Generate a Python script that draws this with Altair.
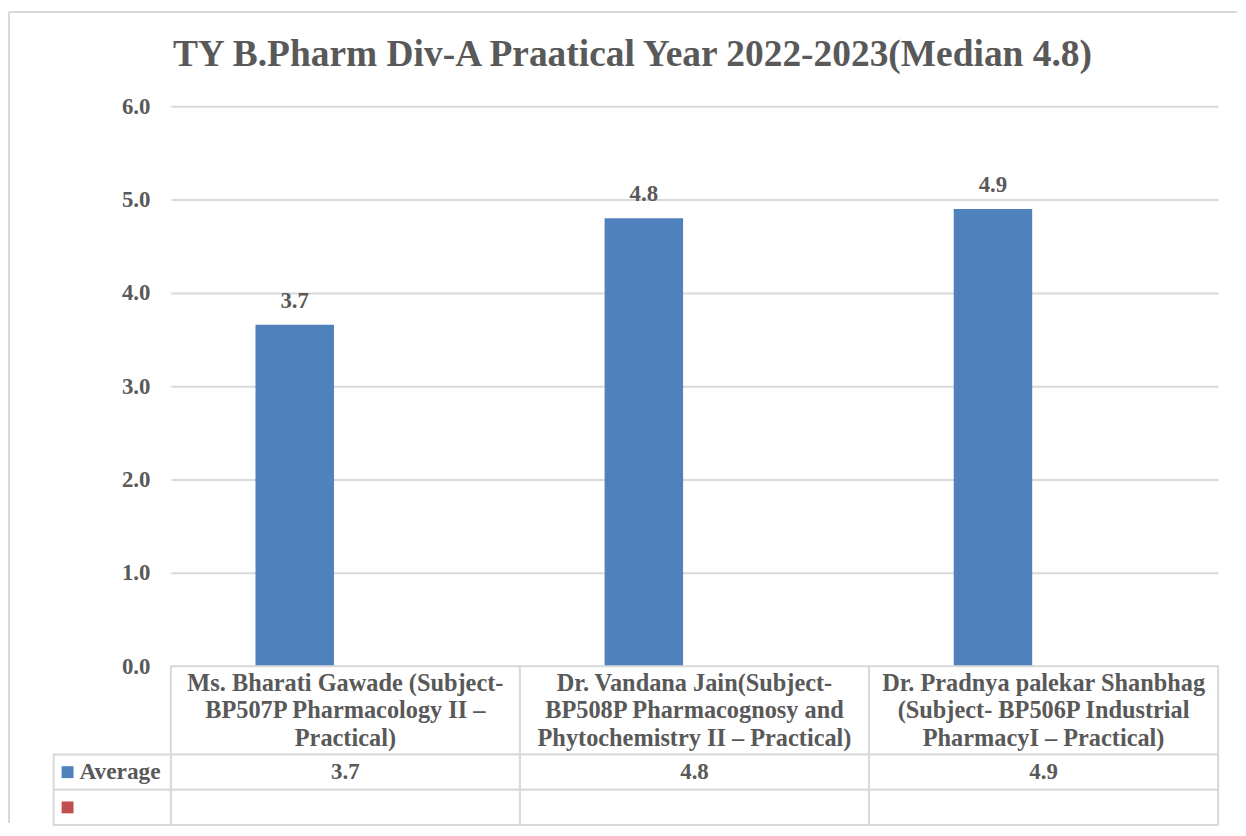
import altair as alt
import pandas as pd

TITLE = "TY B.Pharm Div-A Praatical Year 2022-2023(Median 4.8)"
CATEGORIES = [
    "Ms. Bharati Gawade (Subject-\nBP507P Pharmacology II –\nPractical)",
    "Dr. Vandana Jain(Subject-\nBP508P Pharmacognosy and\nPhytochemistry II – Practical)",
    "Dr. Pradnya palekar Shanbhag\n(Subject- BP506P Industrial\nPharmacyI – Practical)",
]
VALUES = [3.66, 4.80, 4.90]
SERIES = ["Average", " "]
SERIES_COLORS = ["#4F81BD", "#C0504D"]
Y_TICKS = [0, 1, 2, 3, 4, 5, 6]

FONT = "Liberation Serif"
TXT = "#595959"
GRID = "#D9D9D9"

W = 1055
H1, H2, H3 = 564, 89, 71

bars_df = pd.DataFrame({"cat": CATEGORIES, "value": VALUES, "series": SERIES[0]})
one = pd.DataFrame({"t": [TITLE]})

xscale = alt.Scale(domain=CATEGORIES, paddingInner=0, paddingOuter=0)
xoff = alt.XOffset("series:N", scale=alt.Scale(domain=SERIES, paddingInner=0.225, paddingOuter=0.836))

base = alt.Chart(bars_df)
bars = base.mark_bar(color=SERIES_COLORS[0]).encode(
    x=alt.X("cat:N", scale=xscale, axis=None, sort=CATEGORIES),
    xOffset=xoff,
    y=alt.Y("value:Q", scale=alt.Scale(domain=[0, 6], nice=False),
            axis=alt.Axis(values=Y_TICKS, format=".1f", title=None, ticks=False, domain=False,
                          grid=True, gridColor=GRID, gridWidth=2, labelFont=FONT,
                          labelFontSize=23, labelFontWeight="bold", labelColor=TXT,
                          labelPadding=21)),
)
labels = base.mark_text(font=FONT, fontSize=23, fontWeight="bold", color=TXT, dy=-17,
                        baseline="alphabetic").encode(
    x=alt.X("cat:N", scale=xscale, axis=None, sort=CATEGORIES),
    xOffset=xoff,
    y=alt.Y("value:Q"),
    text=alt.Text("value:Q", format=".1f"),
)
title = alt.Chart(one).mark_text(font=FONT, fontSize=37.7, fontWeight="bold", color=TXT,
                                 align="center", baseline="alphabetic").encode(
    x=alt.value(465), y=alt.value(-41), text="t:N")
top_border = alt.Chart(one).mark_rule(color=GRID, strokeWidth=2).encode(
    x=alt.value(-163), x2=alt.value(1074), y=alt.value(-95))
left_border = alt.Chart(one).mark_rule(color=GRID, strokeWidth=2).encode(
    x=alt.value(-163), y=alt.value(-95), y2=alt.value(722))

chart1 = alt.layer(top_border, left_border, bars, labels, title).properties(width=W, height=H1)

# category row of the data table
cat_df = pd.DataFrame({"cat": CATEGORIES, "row": "cat"})
cbase = alt.Chart(cat_df)
cat_cells = cbase.mark_rect(fill="white", stroke=GRID, strokeWidth=2).encode(
    x=alt.X("cat:N", scale=xscale, axis=None, sort=CATEGORIES),
    y=alt.Y("row:N", axis=None),
)
cat_text = cbase.mark_text(font=FONT, fontSize=24.5, fontWeight="bold", color=TXT,
                           lineBreak="\n", lineHeight=27.5, baseline="alphabetic").encode(
    x=alt.X("cat:N", scale=xscale, axis=None, sort=CATEGORIES),
    y=alt.value(25),
    text="cat:N",
)
chart2 = alt.layer(cat_cells, cat_text).properties(width=W, height=H2)

# value rows of the data table
rows = []
for s in SERIES:
    for c, v in zip(CATEGORIES, VALUES):
        rows.append({"cat": c, "row": s, "txt": f"{v:.1f}" if s == "Average" else ""})
tab_df = pd.DataFrame(rows)
hdr_df = pd.DataFrame({"row": SERIES, "color": SERIES_COLORS})
yrow = alt.Y("row:N", scale=alt.Scale(domain=SERIES), axis=None)

tbase = alt.Chart(tab_df)
tab_cells = tbase.mark_rect(fill="white", stroke=GRID, strokeWidth=2).encode(
    x=alt.X("cat:N", scale=xscale, axis=None, sort=CATEGORIES), y=yrow)
tab_text = tbase.mark_text(font=FONT, fontSize=23, fontWeight="bold", color=TXT,
                           baseline="middle").encode(
    x=alt.X("cat:N", scale=xscale, axis=None, sort=CATEGORIES), y=yrow, text="txt:N")

hbase = alt.Chart(hdr_df)
hdr_cells = hbase.mark_rect(fill="white", stroke=GRID, strokeWidth=2).encode(
    x=alt.value(-118), x2=alt.value(0), y=yrow)
hdr_sq = hbase.mark_square(size=144, opacity=1, filled=True).encode(
    x=alt.value(-104), y=yrow,
    color=alt.Color("color:N", scale=None, legend=None))
hdr_text = hbase.mark_text(font=FONT, fontSize=23.5, fontWeight="bold", color=TXT,
                           align="left", baseline="middle").encode(
    x=alt.value(-92), y=yrow, text=alt.Text("row:N"))

chart3 = alt.layer(tab_cells, tab_text, hdr_cells, hdr_sq, hdr_text).properties(width=W, height=H3)

chart = alt.vconcat(chart1, chart2, chart3, spacing=0, bounds="flush").properties(
    padding={"left": 0, "top": 0, "right": 0, "bottom": 0},
    background="white",
).resolve_scale(x="shared").configure_view(stroke=None)

chart.save("out.html", embed_options={"renderer": "svg", "actions": False})
